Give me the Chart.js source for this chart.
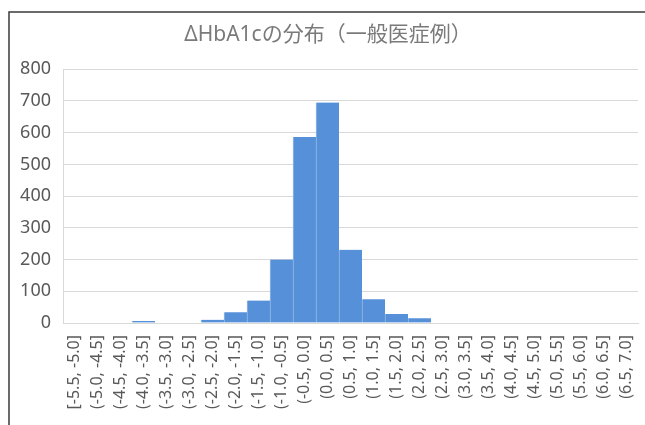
<!DOCTYPE html>
<html lang="ja">
<head>
<meta charset="UTF-8" />
<title>ΔHbA1cの分布（一般医症例）</title>
<script src="https://cdn.jsdelivr.net/npm/chart.js@4"></script>
<style>
  html, body { margin: 0; padding: 0; background: #fff; }
  #wrap { width: 645px; height: 425px; }
</style>
</head>
<body>
<div id="wrap"><canvas id="hist"></canvas></div>
<script>
// bins of ΔHbA1c and the case count in each
const bins = [
  "[-5.5, -5.0]", "(-5.0, -4.5]", "(-4.5, -4.0]", "(-4.0, -3.5]", "(-3.5, -3.0]",
  "(-3.0, -2.5]", "(-2.5, -2.0]", "(-2.0, -1.5]", "(-1.5, -1.0]", "(-1.0, -0.5]",
  "(-0.5, 0.0]", "(0.0, 0.5]", "(0.5, 1.0]", "(1.0, 1.5]", "(1.5, 2.0]",
  "(2.0, 2.5]", "(2.5, 3.0]", "(3.0, 3.5]", "(3.5, 4.0]", "(4.0, 4.5]",
  "(4.5, 5.0]", "(5.0, 5.5]", "(5.5, 6.0]", "(6.0, 6.5]", "(6.5, 7.0]"
];
const counts = [0, 0, 0, 6, 0, 0, 10, 34, 71, 200, 586, 695, 231, 75, 28, 15, 0, 0, 0, 0, 0, 0, 0, 0, 0];
const yTicks = [0, 100, 200, 300, 400, 500, 600, 700, 800];

const textGray = "#595959";
const gridGray = "#d9d9d9";
const fontFamily = "'Noto Sans', 'Noto Sans CJK JP', sans-serif";

// dark frame line along the top and left edges
const frame = {
  id: "frame",
  beforeDraw(chart) {
    const ctx = chart.ctx;
    ctx.save();
    ctx.fillStyle = "#fff";
    ctx.fillRect(0, 0, chart.width, chart.height);
    ctx.strokeStyle = "#3a3a3a";
    ctx.lineWidth = 1.5;
    ctx.beginPath();
    ctx.moveTo(9, chart.height);
    ctx.lineTo(9, 12);
    ctx.lineTo(chart.width, 12);
    ctx.stroke();
    ctx.restore();
  }
};

new Chart(document.getElementById("hist"), {
  type: "bar",
  data: {
    labels: bins,
    datasets: [{
      data: counts,
      backgroundColor: "#5690d8",
      borderColor: "#9dbde8",
      borderWidth: { left: 1, right: 0, top: 0, bottom: 0 },
      categoryPercentage: 1,
      barPercentage: 1
    }]
  },
  options: {
    responsive: true,
    maintainAspectRatio: false,
    animation: false,
    layout: { padding: { left: 18, right: 7, top: 0, bottom: 0 } },
    plugins: {
      legend: { display: false },
      tooltip: { enabled: false },
      title: {
        display: true,
        text: "ΔHbA1cの分布（一般医症例）",
        color: "#7a7a7a",
        font: { family: fontFamily, size: 21, weight: "normal" },
        padding: { top: 22, bottom: 22 }
      }
    },
    scales: {
      x: {
        grid: { display: false, drawTicks: false },
        border: { display: true, color: gridGray },
        ticks: {
          color: textGray,
          font: { family: fontFamily, size: 16 },
          minRotation: 90,
          maxRotation: 90,
          autoSkip: false,
          padding: 12
        },
        afterFit: (s) => {
          s.height = 102;
          s.paddingLeft = 0;
          s.paddingRight = 0;
        }
      },
      y: {
        min: 0,
        max: 800,
        afterBuildTicks: (s) => { s.ticks = yTicks.map(v => ({ value: v })); },
        grid: { color: gridGray, drawTicks: false },
        border: { display: true, color: gridGray },
        ticks: {
          color: textGray,
          font: { family: fontFamily, size: 18 },
          padding: 12
        },
        afterFit: (s) => { s.width = 45; }
      }
    }
  },
  plugins: [frame]
});
</script>
</body>
</html>
